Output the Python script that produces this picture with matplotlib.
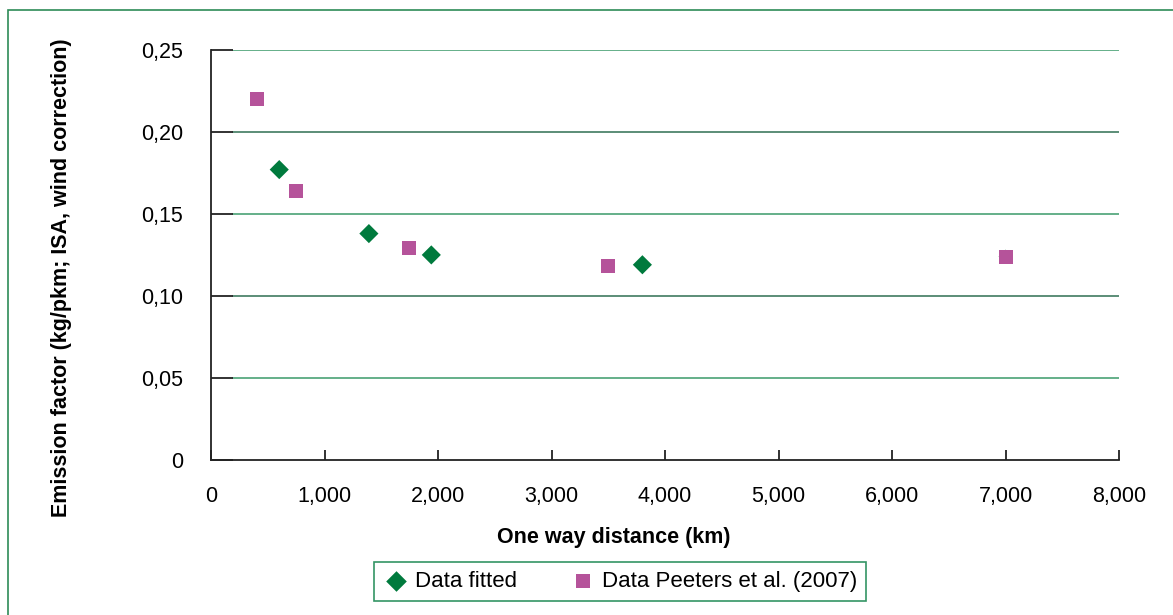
import matplotlib.pyplot as plt
from matplotlib.patches import Rectangle
from matplotlib.ticker import FuncFormatter

plt.rcParams['font.family'] = ['Liberation Sans', 'DejaVu Sans']

# data
fitted_km = [600, 1390, 1940, 3800, 7000]
fitted_ef = [0.177, 0.138, 0.125, 0.119, 0.124]
peeters_km = [400, 750, 1745, 3500, 7000]
peeters_ef = [0.220, 0.164, 0.129, 0.118, 0.124]

y_ticks = [0, 0.05, 0.10, 0.15, 0.20, 0.25]
x_ticks = [0, 1000, 2000, 3000, 4000, 5000, 6000, 7000, 8000]

GREEN = '#007a3d'
PINK = '#b5539a'
FRAME = '#2e8b57'
FS = 15.5

fig = plt.figure(figsize=(11.73, 6.15), dpi=100)
ax = fig.add_axes([0.18, 0.252, 0.774, 0.667])

for i, yv in enumerate(y_ticks[1:]):
    col = '#3a9a6a' if i % 2 == 0 else '#2f6f52'
    ax.axhline(yv, xmin=22 / 908, xmax=1, color=col, lw=1.1, zorder=1)

# last diamond sits under the 7000 km square in the source figure
d_sizes = [95, 95, 95, 95, 50]
ax.scatter(fitted_km, fitted_ef, marker='D', s=d_sizes, color=GREEN,
           label='Data fitted', zorder=3, linewidths=0)
ax.scatter(peeters_km, peeters_ef, marker='s', s=115, color=PINK,
           label='Data Peeters et al. (2007)', zorder=4, linewidths=0)

ax.set_xlim(0, 8000)
ax.set_ylim(0, 0.25)
ax.set_xticks(x_ticks)
ax.set_yticks(y_ticks)
ax.xaxis.set_major_formatter(FuncFormatter(lambda v, p: '{:,.0f}'.format(v)))
ax.yaxis.set_major_formatter(
    FuncFormatter(lambda v, p: '0' if v == 0 else '{:.2f}'.format(v).replace('.', ',')))

for s in ['top', 'right']:
    ax.spines[s].set_visible(False)
for s in ['left', 'bottom']:
    ax.spines[s].set_color('#222222')
    ax.spines[s].set_linewidth(1.3)

ax.tick_params(axis='y', direction='in', length=16, width=1.3, color='#222222',
               labelsize=FS, pad=20)
ax.tick_params(axis='x', direction='in', length=7, width=1.3, color='#222222',
               labelsize=FS, pad=19)

ax.set_xlabel('One way distance (km)', fontsize=FS, fontweight='bold',
              labelpad=14, x=0.444)
ax.set_ylabel('Emission factor (kg/pkm; ISA, wind correction)', fontsize=FS,
              fontweight='bold', labelpad=50, y=0.444)

leg = fig.legend(loc='center', bbox_to_anchor=(0.5286, 0.054), ncol=2,
                 fontsize=16, frameon=True, fancybox=False, handletextpad=0.25,
                 columnspacing=2.4, borderpad=0.4, handlelength=1.2)
leg.legend_handles[0].set_sizes([110])
leg.legend_handles[1].set_sizes([115])
leg.get_frame().set_edgecolor(GREEN)
leg.get_frame().set_linewidth(1.2)

fig.patches.append(Rectangle((8 / 1173, -0.01), 1.0, 1 - 10 / 615 + 0.01,
                             transform=fig.transFigure, fill=False,
                             edgecolor=FRAME, lw=1.2))

fig.savefig('out.png', dpi=100)
